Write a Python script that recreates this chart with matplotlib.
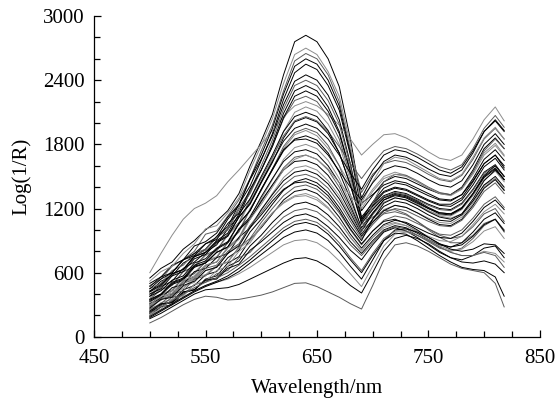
"""
Reflectance spectra, Log(1/R) vs wavelength, many samples overlaid.
"""

import matplotlib
matplotlib.use("Agg")
import matplotlib.pyplot as plt
from matplotlib.ticker import MultipleLocator

# ---------------------------------------------------------------------------
# Data (one list per spectrum)
# ---------------------------------------------------------------------------

wavelength = [500, 510, 520, 530, 540, 550, 560, 570, 580, 590, 600, 610, 620,
              630, 640, 650, 660, 670, 680, 690, 700, 710, 720, 730, 740, 750,
              760, 770, 780, 790, 800, 810, 818]

# high-peak spectra
h1 = [550, 640, 700, 820, 900, 1000, 1080, 1180, 1340, 1600, 1830, 2080, 2450, 2760, 2820, 2760, 2600, 2340, 1850, 1250, 1330, 1420, 1460, 1440, 1390, 1340, 1290, 1280, 1330, 1460, 1620, 1700, 1580]
h2 = [480, 540, 660, 720, 800, 960, 990, 1130, 1280, 1480, 1740, 1980, 2300, 2580, 2650, 2600, 2450, 2200, 1750, 1350, 1520, 1620, 1650, 1630, 1580, 1520, 1470, 1450, 1510, 1660, 1850, 1950, 1850]
h3 = [420, 520, 570, 690, 750, 820, 940, 1030, 1240, 1410, 1650, 1900, 2220, 2470, 2550, 2500, 2350, 2120, 1700, 1300, 1500, 1640, 1700, 1680, 1630, 1570, 1520, 1500, 1560, 1720, 1920, 2020, 1920]
h4 = [500, 560, 670, 720, 850, 890, 970, 1120, 1240, 1470, 1660, 1880, 2170, 2390, 2450, 2400, 2260, 2030, 1620, 1120, 1250, 1360, 1400, 1380, 1330, 1280, 1240, 1240, 1300, 1450, 1620, 1700, 1600]
h5 = [380, 470, 520, 640, 700, 790, 860, 1010, 1130, 1360, 1560, 1800, 2090, 2300, 2350, 2300, 2150, 1920, 1550, 1100, 1220, 1320, 1360, 1340, 1290, 1240, 1200, 1190, 1250, 1380, 1540, 1610, 1500]
h6 = [450, 500, 620, 670, 780, 820, 930, 1000, 1190, 1340, 1560, 1780, 2040, 2210, 2250, 2200, 2060, 1850, 1500, 1080, 1200, 1310, 1350, 1330, 1280, 1230, 1190, 1180, 1240, 1370, 1530, 1600, 1500]
h7 = [600, 780, 950, 1100, 1200, 1250, 1320, 1450, 1560, 1680, 1800, 1930, 2060, 2160, 2200, 2160, 2080, 1980, 1850, 1700, 1800, 1890, 1900, 1860, 1800, 1730, 1670, 1650, 1700, 1850, 2030, 2150, 2020]
h8 = [520, 610, 660, 780, 870, 1010, 1040, 1160, 1300, 1560, 1790, 2040, 2370, 2640, 2700, 2640, 2480, 2250, 1800, 1230, 1380, 1500, 1540, 1510, 1450, 1390, 1340, 1330, 1390, 1540, 1720, 1810, 1700]
h9 = [450, 540, 600, 720, 780, 870, 930, 1100, 1230, 1480, 1700, 1950, 2270, 2530, 2600, 2550, 2400, 2160, 1720, 1180, 1320, 1450, 1500, 1480, 1430, 1380, 1340, 1330, 1400, 1560, 1760, 1860, 1760]
h10 = [400, 470, 580, 630, 760, 810, 930, 1010, 1210, 1360, 1600, 1840, 2130, 2350, 2400, 2350, 2210, 1990, 1600, 1050, 1120, 1180, 1190, 1150, 1080, 1000, 930, 880, 880, 950, 1060, 1100, 980]
h11 = [470, 560, 600, 720, 760, 870, 910, 1060, 1160, 1380, 1560, 1780, 2050, 2250, 2300, 2250, 2110, 1900, 1540, 1100, 1260, 1390, 1440, 1420, 1370, 1320, 1280, 1270, 1330, 1480, 1660, 1750, 1650]
h12 = [360, 450, 490, 610, 650, 760, 800, 950, 1050, 1270, 1450, 1660, 1920, 2100, 2150, 2110, 1990, 1800, 1460, 1070, 1200, 1300, 1330, 1300, 1240, 1180, 1130, 1110, 1150, 1270, 1420, 1480, 1370]
h13 = [430, 490, 590, 630, 750, 790, 890, 950, 1120, 1240, 1440, 1630, 1860, 2010, 2050, 2010, 1900, 1720, 1420, 1060, 1190, 1300, 1340, 1320, 1270, 1210, 1160, 1150, 1200, 1330, 1490, 1570, 1470]

# mid-peak spectra
m1 = [350, 440, 480, 610, 660, 770, 810, 960, 1070, 1290, 1480, 1680, 1880, 2020, 2060, 2020, 1920, 1780, 1620, 1480, 1620, 1740, 1780, 1760, 1710, 1650, 1590, 1560, 1610, 1760, 1950, 2070, 1960]
m2 = [400, 450, 570, 610, 730, 770, 880, 940, 1120, 1250, 1450, 1640, 1830, 1950, 1990, 1950, 1850, 1700, 1530, 1380, 1560, 1700, 1750, 1730, 1680, 1620, 1560, 1530, 1590, 1740, 1920, 2030, 1930]
m3 = [320, 400, 440, 560, 600, 710, 750, 890, 990, 1200, 1370, 1560, 1760, 1890, 1930, 1880, 1760, 1600, 1420, 1250, 1450, 1620, 1680, 1660, 1600, 1540, 1480, 1460, 1520, 1680, 1860, 1960, 1850]
m4 = [420, 480, 590, 630, 750, 790, 900, 970, 1150, 1290, 1500, 1700, 1920, 2060, 2100, 2060, 1930, 1720, 1420, 1080, 1230, 1350, 1390, 1370, 1320, 1270, 1230, 1220, 1280, 1420, 1590, 1670, 1560]
m5 = [300, 390, 430, 550, 590, 700, 740, 880, 980, 1190, 1370, 1570, 1780, 1910, 1950, 1910, 1790, 1600, 1330, 1000, 1080, 1150, 1170, 1140, 1080, 1010, 950, 920, 940, 1030, 1150, 1200, 1080]
m6 = [380, 430, 530, 570, 690, 730, 830, 890, 1060, 1180, 1380, 1560, 1740, 1850, 1880, 1840, 1720, 1540, 1290, 1020, 1160, 1280, 1320, 1300, 1250, 1200, 1160, 1150, 1210, 1340, 1500, 1580, 1470]
m7 = [260, 350, 390, 510, 550, 660, 700, 840, 930, 1130, 1290, 1470, 1660, 1770, 1800, 1760, 1650, 1480, 1250, 1000, 1140, 1260, 1300, 1280, 1230, 1180, 1140, 1130, 1190, 1320, 1470, 1550, 1450]
m8 = [330, 390, 490, 530, 650, 690, 790, 840, 1010, 1120, 1310, 1480, 1640, 1730, 1750, 1710, 1600, 1440, 1220, 990, 1150, 1280, 1330, 1310, 1260, 1200, 1150, 1140, 1200, 1340, 1510, 1600, 1500]
m9 = [290, 370, 400, 520, 560, 670, 700, 830, 920, 1110, 1260, 1420, 1580, 1680, 1700, 1660, 1560, 1400, 1190, 980, 1250, 1450, 1520, 1510, 1460, 1400, 1350, 1330, 1390, 1540, 1740, 1850, 1760]
m10 = [350, 400, 500, 540, 660, 690, 790, 840, 1000, 1100, 1270, 1420, 1560, 1640, 1650, 1610, 1510, 1360, 1160, 960, 1100, 1220, 1270, 1250, 1200, 1140, 1090, 1080, 1140, 1270, 1420, 1500, 1400]
m11 = [240, 320, 350, 470, 510, 620, 650, 780, 860, 1040, 1180, 1340, 1490, 1580, 1600, 1560, 1460, 1320, 1130, 950, 1080, 1190, 1230, 1210, 1160, 1110, 1070, 1060, 1120, 1250, 1400, 1480, 1380]
m12 = [310, 360, 460, 490, 610, 640, 740, 780, 930, 1020, 1190, 1330, 1460, 1540, 1560, 1520, 1430, 1290, 1110, 940, 1070, 1180, 1230, 1210, 1160, 1100, 1050, 1040, 1100, 1230, 1390, 1470, 1370]
m13 = [280, 360, 380, 500, 540, 640, 670, 800, 870, 1040, 1160, 1300, 1420, 1500, 1520, 1480, 1390, 1250, 1080, 920, 1050, 1160, 1200, 1180, 1130, 1080, 1040, 1030, 1090, 1210, 1360, 1440, 1340]
m14 = [340, 400, 510, 550, 670, 710, 820, 880, 1060, 1180, 1380, 1570, 1750, 1840, 1850, 1810, 1700, 1550, 1400, 1280, 1440, 1560, 1600, 1580, 1530, 1470, 1420, 1400, 1460, 1610, 1800, 1900, 1800]
m15 = [300, 380, 410, 530, 570, 670, 700, 830, 910, 1100, 1240, 1400, 1560, 1660, 1700, 1660, 1570, 1440, 1320, 1200, 1360, 1480, 1520, 1500, 1450, 1390, 1340, 1320, 1380, 1520, 1700, 1790, 1690]

# low-peak spectra
l1 = [220, 300, 330, 440, 480, 580, 610, 740, 810, 980, 1100, 1240, 1370, 1450, 1480, 1440, 1350, 1210, 1040, 900, 1100, 1250, 1300, 1280, 1230, 1170, 1120, 1100, 1150, 1290, 1460, 1560, 1470]
l2 = [260, 310, 400, 430, 540, 570, 660, 700, 840, 920, 1070, 1200, 1320, 1400, 1420, 1380, 1290, 1160, 1000, 860, 990, 1090, 1130, 1110, 1060, 1010, 960, 950, 1000, 1110, 1240, 1310, 1210]
l3 = [200, 280, 300, 410, 440, 540, 570, 690, 750, 910, 1020, 1150, 1280, 1360, 1380, 1340, 1250, 1120, 960, 830, 950, 1050, 1090, 1070, 1020, 970, 930, 920, 970, 1080, 1210, 1280, 1190]
l4 = [300, 340, 430, 450, 560, 580, 670, 700, 830, 900, 1040, 1160, 1250, 1310, 1320, 1280, 1200, 1080, 930, 810, 930, 1020, 1060, 1040, 990, 940, 900, 890, 940, 1050, 1170, 1240, 1150]
l5 = [230, 300, 320, 420, 440, 530, 550, 660, 710, 850, 950, 1070, 1170, 1240, 1260, 1220, 1140, 1030, 890, 780, 900, 1000, 1040, 1020, 970, 910, 860, 840, 880, 980, 1100, 1160, 1060]
l6 = [250, 290, 370, 390, 490, 510, 590, 620, 740, 790, 910, 1020, 1120, 1180, 1200, 1170, 1090, 990, 860, 760, 880, 990, 1030, 1010, 950, 890, 830, 800, 830, 920, 1040, 1100, 1000]
l7 = [270, 350, 370, 480, 520, 620, 650, 780, 850, 1020, 1140, 1270, 1380, 1440, 1450, 1410, 1320, 1180, 1010, 870, 990, 1080, 1100, 1060, 1000, 930, 870, 840, 860, 940, 1050, 1100, 990]
l8 = [210, 260, 350, 380, 490, 520, 620, 660, 800, 880, 1030, 1160, 1260, 1320, 1340, 1300, 1210, 1080, 930, 800, 930, 1040, 1070, 1040, 980, 910, 850, 810, 820, 890, 990, 1030, 920]
l9 = [240, 310, 320, 420, 440, 530, 540, 640, 680, 810, 890, 980, 1070, 1130, 1150, 1110, 1030, 930, 810, 720, 860, 980, 1020, 990, 930, 860, 790, 740, 720, 760, 830, 850, 740]

# very low spectra
v1 = [130, 180, 240, 300, 350, 380, 370, 345, 350, 370, 390, 420, 460, 500, 505, 470, 420, 370, 310, 260, 480, 720, 860, 880, 850, 800, 740, 680, 640, 620, 600, 500, 280]
v2 = [170, 220, 280, 340, 400, 440, 450, 460, 490, 540, 590, 640, 690, 730, 740, 710, 650, 570, 480, 410, 600, 800, 920, 950, 920, 870, 800, 740, 700, 690, 710, 680, 600]
v3 = [200, 250, 310, 370, 430, 480, 510, 540, 590, 650, 720, 790, 860, 900, 910, 880, 810, 710, 590, 470, 660, 850, 960, 980, 950, 900, 840, 790, 760, 760, 800, 780, 700]
v4 = [180, 240, 300, 360, 420, 470, 510, 550, 610, 690, 770, 850, 930, 980, 1000, 970, 900, 790, 660, 540, 720, 900, 1000, 1010, 980, 930, 870, 820, 800, 820, 870, 860, 780]
v5 = [220, 280, 340, 400, 460, 510, 550, 600, 670, 750, 840, 930, 1020, 1080, 1100, 1070, 990, 880, 740, 620, 780, 920, 990, 990, 950, 900, 840, 790, 760, 760, 790, 760, 650]
v6 = [190, 250, 310, 370, 430, 480, 520, 570, 640, 720, 810, 900, 990, 1050, 1070, 1040, 960, 850, 720, 600, 760, 900, 970, 960, 900, 830, 760, 700, 650, 630, 620, 560, 380]

spectra = [h1, h2, h3, h7, h5, h6, h4, h8, h9, h10, h11, h12, h13,
           m1, m2, m3, m4, m5, m6, m7, m8, m9, m10, m11, m12, m13, m14, m15,
           l1, l2, l3, l4, l5, l6, l7, l8, l9,
           v1, v2, v3, v4, v5, v6]

line_colors = ["black", "#5a5a5a", "black", "#8c8c8c"]

# ---------------------------------------------------------------------------
# Plot
# ---------------------------------------------------------------------------

plt.rcParams["font.family"] = ["Liberation Serif", "DejaVu Serif"]

fig = plt.figure(figsize=(5.6, 4.01), dpi=100)
ax = fig.add_axes([0.168, 0.160, 0.796, 0.800])

for i, s in enumerate(spectra):
    ax.plot(wavelength, s, color=line_colors[i % len(line_colors)],
            linewidth=0.7)

ax.set_xlim(450, 850)
ax.set_ylim(0, 3000)
ax.set_xticks([450, 550, 650, 750, 850])
ax.xaxis.set_minor_locator(MultipleLocator(25))
ax.yaxis.set_major_locator(MultipleLocator(600))
ax.yaxis.set_minor_locator(MultipleLocator(200))

for side in ("top", "right"):
    ax.spines[side].set_visible(False)
for side in ("left", "bottom"):
    ax.spines[side].set_linewidth(0.9)

ax.tick_params(which="both", direction="in", width=0.9, labelsize=15)
ax.tick_params(which="major", length=5)
ax.tick_params(which="minor", length=4)
ax.tick_params(axis="y", which="major", pad=7)
ax.tick_params(axis="x", which="major", pad=9)

ax.set_xlabel("Wavelength/nm", fontsize=15, labelpad=8)
ax.set_ylabel("Log(1/R)", fontsize=15, labelpad=8)

fig.savefig("out.png", dpi=100)
